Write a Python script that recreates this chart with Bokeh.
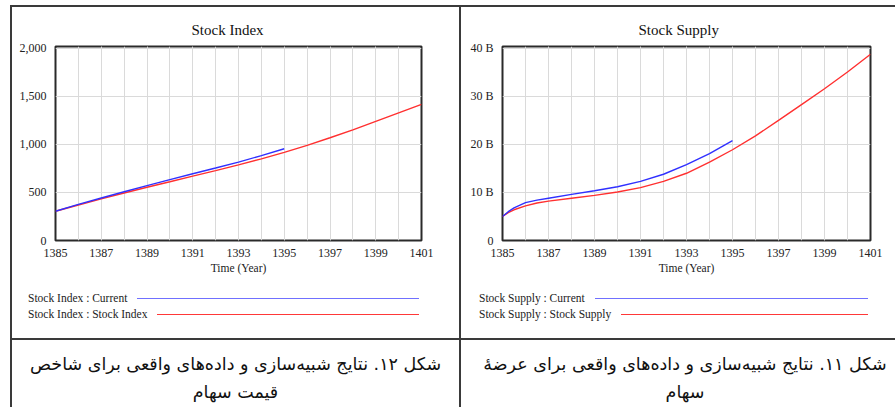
from bokeh.plotting import figure
from bokeh.models import Div, FixedTicker, NumeralTickFormatter, Range1d
from bokeh.layouts import row, column
from bokeh.embed import file_html
from bokeh.resources import INLINE

# ---------------- data ----------------
years_all = list(range(1385, 1402))
x_tick_years = [1385, 1387, 1389, 1391, 1393, 1395, 1397, 1399, 1401]

index_current_years = list(range(1385, 1396))
index_current = [305, 376, 443, 508, 572, 634, 695, 755, 816, 884, 955]
index_sim_years = list(range(1385, 1402))
index_sim = [305, 370, 434, 495, 555, 612, 670, 727, 788, 850, 917, 990, 1070, 1152, 1240, 1328, 1417]
index_ticks = [0, 500, 1000, 1500, 2000]

supply_current_years = [1385, 1385.25, 1385.5, 1386, 1386.5, 1387, 1388, 1389, 1390,
                        1391, 1392, 1393, 1394, 1395]
supply_current = [5.0, 6.0, 6.8, 7.9, 8.4, 8.8, 9.6, 10.35, 11.2, 12.3, 13.8, 15.8, 18.1, 20.8]
supply_sim_years = [1385, 1385.25, 1385.5, 1386, 1386.5, 1387, 1388, 1389, 1390, 1391,
                    1392, 1393, 1394, 1395, 1396, 1397, 1398, 1399, 1400, 1401]
supply_sim = [5.0, 5.8, 6.4, 7.2, 7.8, 8.2, 8.8, 9.4, 10.1, 11.0, 12.3, 14.0, 16.3, 18.9,
              21.8, 25.0, 28.3, 31.6, 35.1, 38.8]
supply_ticks = [0, 10, 20, 30, 40]
supply_tick_labels = ["0", "10 B", "20 B", "30 B", "40 B"]

caption_left = ["شکل ۱۲. نتایج شبیه‌سازی و داده‌های واقعی برای شاخص", "قیمت سهام"]
caption_right = ["شکل ۱۱. نتایج شبیه‌سازی و داده‌های واقعی برای عرضهٔ", "سهام"]

BLUE = "#3030ff"
RED = "#ff3030"
LINE = "#3a3a3a"
SERIF = "Liberation Serif"

FIG_H = 279


def make_fig(title, width, ymax, mbl, mbr):
    p = figure(width=width, height=FIG_H, output_backend="svg", toolbar_location=None,
               x_range=Range1d(1385, 1401), y_range=Range1d(0, ymax),
               min_border_left=mbl, min_border_right=mbr, min_border_top=39,
               min_border_bottom=46, title=title)
    p.title.align = "left"
    p.title.offset = 136
    p.title.text_font = SERIF
    p.title.text_font_size = "15px"
    p.title.text_font_style = "normal"
    p.title.text_color = "#111111"
    p.title.standoff = 18
    p.background_fill_color = "white"
    p.border_fill_color = "white"
    p.outline_line_color = "#2a2a2a"
    p.outline_line_width = 2
    p.axis.axis_line_color = None
    p.axis.major_tick_out = 0
    p.axis.major_tick_in = 0
    p.axis.minor_tick_out = 0
    p.axis.minor_tick_in = 0
    p.axis.major_label_text_font = SERIF
    p.axis.major_label_text_font_size = "12px"
    p.axis.major_label_text_color = "#222222"
    p.xaxis.ticker = FixedTicker(ticks=x_tick_years, minor_ticks=years_all)
    p.xaxis.major_label_standoff = 8
    p.xaxis.axis_label = "Time (Year)"
    p.xaxis.axis_label_text_font = SERIF
    p.xaxis.axis_label_text_font_size = "11.5px"
    p.xaxis.axis_label_text_font_style = "normal"
    p.xaxis.axis_label_text_color = "#222222"
    p.xaxis.axis_label_standoff = 2
    p.yaxis.major_label_standoff = 9
    p.xgrid.grid_line_color = "#dadada"
    p.xgrid.minor_grid_line_color = "#dadada"
    p.ygrid.grid_line_color = "#dadada"
    return p


W1 = 447
W2 = 434

p1 = make_fig("Stock Index", W1, 2020, 43, 38)
p1.yaxis.ticker = FixedTicker(ticks=index_ticks)
p1.yaxis.formatter = NumeralTickFormatter(format="0,0")
p1.line(index_sim_years, index_sim, line_color=RED, line_width=1.4)
p1.line(index_current_years, index_current, line_color=BLUE, line_width=1.4)

p2 = make_fig("Stock Supply", W2, 40.4, 41, 25)
p2.yaxis.ticker = FixedTicker(ticks=supply_ticks)
p2.yaxis.major_label_overrides = {t: l for t, l in zip(supply_ticks, supply_tick_labels)}
p2.line(supply_sim_years, supply_sim, line_color=RED, line_width=1.4)
p2.line(supply_current_years, supply_current, line_color=BLUE, line_width=1.4)


def legend_div(width, labels, colors, pl, pr):
    rows = ""
    for lab, col in zip(labels, colors):
        rows += (
            '<div style="display:flex;align-items:center;height:16px;">'
            f'<span style="white-space:nowrap">{lab}</span>'
            f'<span style="flex:1;height:0;border-top:1.5px solid {col};margin-left:10px"></span>'
            "</div>"
        )
    html = (
        f'<div style="box-sizing:border-box;width:{width}px;padding:4px {pr}px 0 {pl}px;'
        f"font-family:'{SERIF}';font-size:11.5px;color:#222;\">{rows}</div>"
    )
    return Div(text=html, width=width, height=52, margin=0,
               styles={"overflow": "hidden"})


def caption_div(width, lines, pl, height):
    html = (
        f'<div dir="rtl" style="box-sizing:border-box;width:{width}px;padding:8px 0 0 {pl}px;'
        f"text-align:center;font-family:'DejaVu Sans';font-size:17.5px;white-space:nowrap;"
        f'color:#111;">'
        f'<div style="line-height:32px">{lines[0]}</div>'
        f'<div style="line-height:24px">{lines[1]}</div>'
        "</div>"
    )
    return Div(text=html, width=width, height=height, margin=0, styles={"overflow": "hidden"})


def hline(width):
    return Div(text="", width=width, height=2, margin=0,
               styles={"background-color": LINE})


def vline(height):
    return Div(text="", width=2, height=height, margin=0,
               styles={"background-color": LINE})


def spacer(w, h):
    return Div(text="", width=w, height=h, margin=0)


leg1 = legend_div(W1, ["Stock Index : Current", "Stock Index : Stock Index"],
                  ["#7070ff", "#ff3838"], 16, 40)
leg2 = legend_div(W2, ["Stock Supply : Current", "Stock Supply : Stock Supply"],
                  ["#7070ff", "#ff3838"], 18, 27)

CAP_H = 67
MAIN_H = FIG_H + 52 + 2 + CAP_H

col1 = column(p1, leg1, hline(W1), caption_div(W1, caption_left, 0, CAP_H), spacing=0)
col2 = column(p2, leg2, hline(W2), caption_div(W2, caption_right, 14, CAP_H), spacing=0)

layout = column(
    spacer(10, 5),
    row(spacer(10, 2), hline(885), spacing=0),
    row(spacer(10, MAIN_H), vline(MAIN_H), col1, vline(MAIN_H), col2, spacing=0),
    spacing=0,
)

open("out.html", "w").write(file_html(layout, INLINE))
